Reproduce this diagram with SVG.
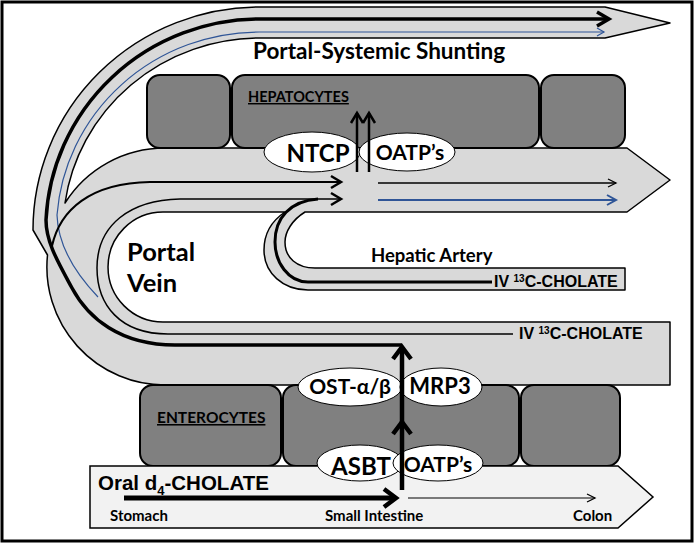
<svg xmlns="http://www.w3.org/2000/svg" width="696" height="546" viewBox="0 0 696 546">
<style>
.tube{fill:#d9d9d9;stroke:#000;stroke-width:1.5;stroke-linejoin:round}
.cell{fill:#808080;stroke:#000;stroke-width:2}
.lumen{fill:#f2f2f2;stroke:#000;stroke-width:1.5}
.oval{fill:#fff;stroke:#000;stroke-width:1}
.cal{font-family:Lato,"Open Sans",sans-serif;font-weight:bold;fill:#000}
.ari{font-family:"Liberation Sans",Arial,sans-serif;font-weight:bold;fill:#000}
.ln{fill:none;stroke:#000}
.bl{fill:none;stroke:#2f5597}
</style>
<defs>
<marker id="mBig" markerUnits="userSpaceOnUse" orient="auto" overflow="visible" markerWidth="1" markerHeight="1"><path d="M-12,-7 L0,0 L-12,7" fill="none" stroke="#000" stroke-width="3.5"/></marker>
<marker id="mMed" markerUnits="userSpaceOnUse" orient="auto" overflow="visible" markerWidth="1" markerHeight="1"><path d="M-10,-6 L0,0 L-10,6" fill="none" stroke="#000" stroke-width="2.5"/></marker>
<marker id="mSm" markerUnits="userSpaceOnUse" orient="auto" overflow="visible" markerWidth="1" markerHeight="1"><path d="M-8,-4 L0,0 L-8,4" fill="none" stroke="#000" stroke-width="1.3"/></marker>
<marker id="mBlue" markerUnits="userSpaceOnUse" orient="auto" overflow="visible" markerWidth="1" markerHeight="1"><path d="M-9,-5 L0,0 L-9,5" fill="none" stroke="#2f5597" stroke-width="2"/></marker>
<marker id="mBlueSm" markerUnits="userSpaceOnUse" orient="auto" overflow="visible" markerWidth="1" markerHeight="1"><path d="M-7,-4 L0,0 L-7,4" fill="none" stroke="#2f5597" stroke-width="1.2"/></marker>
<marker id="mVert" markerUnits="userSpaceOnUse" orient="auto" overflow="visible" markerWidth="1" markerHeight="1"><path d="M-12,-9 L0,0 L-12,9" fill="none" stroke="#000" stroke-width="4.5"/></marker>
</defs>
<rect x="0" y="0" width="696" height="546" fill="#fff"/>
<rect x="2" y="2" width="690" height="539" fill="none" stroke="#000" stroke-width="3"/>

<g id="vessels">
<path class="tube" d="M605,7 L670,23 L605,38 H260 A197 192 0 0 0 65,203 A118 118 0 0 1 165,148 H627 L670,180 L627,212 H305 C292,220 285,232 285,242 C285,258 297,268 315,268 H625 V290 H308 C283,290 264,273 264,250 C264,236 270,222 285,212 H163 A55 55 0 0 0 163,322 H670 V385 H165 A118 118 0 0 1 47.5,255 L33,230 A227 223 0 0 1 260,7 Z"/>
</g>

<g id="hepatocytes">
<rect class="cell" x="147" y="75" width="83" height="73" rx="13"/>
<rect class="cell" x="232" y="75" width="307" height="73" rx="13"/>
<rect class="cell" x="541" y="75" width="84" height="73" rx="13"/>
</g>

<g id="enterocytes">
<rect class="cell" x="140" y="385" width="141" height="81" rx="13"/>
<rect class="cell" x="283" y="385" width="236" height="81" rx="13"/>
<rect class="cell" x="521" y="385" width="99" height="81" rx="13"/>
</g>

<g id="lumen">
<path class="lumen" d="M90,466 H618 L653,497 L618,528 H90 Z"/>
</g>

<g id="transporters">
<g id="ntcp"><ellipse class="oval" cx="312" cy="152" rx="48" ry="20"/><text class="cal" x="318" y="162" font-size="24" text-anchor="middle">NTCP</text></g>
<g id="oatp-liver"><ellipse class="oval" cx="407" cy="152" rx="48" ry="19"/><text class="cal" x="410" y="160" font-size="21" text-anchor="middle">OATP’s</text></g>
<g id="ost"><ellipse class="oval" cx="350" cy="387" rx="52" ry="19"/><text class="cal" x="350" y="394" font-size="21" text-anchor="middle">OST-α/β</text></g>
<g id="mrp3"><ellipse class="oval" cx="441" cy="387" rx="41" ry="19"/><text class="cal" x="440" y="394" font-size="22" text-anchor="middle">MRP3</text></g>
<g id="asbt"><ellipse class="oval" cx="360" cy="463" rx="43" ry="18"/><text class="cal" x="361" y="475" font-size="24" text-anchor="middle">ASBT</text></g>
<g id="oatp-gut"><ellipse class="oval" cx="438" cy="463" rx="45" ry="18"/><text class="cal" x="438" y="472" font-size="21" text-anchor="middle">OATP’s</text></g>
</g>

<g id="connectors">
<path class="ln" stroke-width="3.5" d="M402,345 H175 C120,345 88,318 72,288 C58,262 46,242 46,220 A214 211 0 0 1 260,19 H609" marker-end="url(#mBig)"/>
<path class="bl" stroke-width="1.2" d="M98,297 C78,276 58,248 57,215 A203 198 0 0 1 260,32 H604" marker-end="url(#mBlueSm)"/>
<path class="ln" stroke-width="2" d="M52,246 C60,210 90,183 150,182 H341" marker-end="url(#mMed)"/>
<path class="ln" stroke-width="1.5" d="M513,334 H168 C120,334 97,305 97,268 C97,225 130,200 180,199 H341" marker-end="url(#mMed)"/>
<path class="ln" stroke-width="3" d="M492,282 H308 C288,282 275,262 275,242 C275,218 290,201 318,199"/>
<path class="ln" stroke-width="1.5" d="M378,183 H616" marker-end="url(#mSm)"/>
<path class="bl" stroke-width="2" d="M378,200 H616" marker-end="url(#mBlue)"/>
<path class="ln" stroke-width="2.5" d="M357,172 V113" marker-end="url(#mMed)"/>
<path class="ln" stroke-width="2.5" d="M369,172 V113" marker-end="url(#mMed)"/>
<path class="ln" stroke-width="4.5" d="M402,490 V422" marker-end="url(#mVert)"/>
<path class="ln" stroke-width="4.5" d="M402,422 V347" marker-end="url(#mVert)"/>
<path class="ln" stroke-width="5" d="M124,498 H396" marker-end="url(#mVert)"/>
<path class="ln" stroke-width="1.2" d="M408,498 H595" marker-end="url(#mSm)"/>
</g>

<g id="labels">
<text class="cal" x="253" y="59" font-size="22.5">Portal-Systemic Shunting</text>
<text class="cal" x="248" y="102" font-size="14.5" text-decoration="underline">HEPATOCYTES</text>
<text class="cal" x="127" y="261" font-size="25.5">Portal</text>
<text class="cal" x="127" y="292" font-size="25.5">Vein</text>
<text class="cal" x="371" y="262" font-size="18.5">Hepatic Artery</text>
<text class="ari" x="494" y="287" font-size="16">IV <tspan font-size="10" dy="-5">13</tspan><tspan dy="5">C-CHOLATE</tspan></text>
<text class="ari" x="519" y="339" font-size="16">IV <tspan font-size="10" dy="-5">13</tspan><tspan dy="5">C-CHOLATE</tspan></text>
<text class="cal" x="157" y="423" font-size="15.5" text-decoration="underline">ENTEROCYTES</text>
<text class="ari" x="98" y="490" font-size="20.5">Oral d<tspan font-size="13" dy="5">4</tspan><tspan dy="-5">-CHOLATE</tspan></text>
<text class="cal" x="110" y="521" font-size="15">Stomach</text>
<text class="cal" x="325" y="521" font-size="15">Small Intestine</text>
<text class="cal" x="573" y="521" font-size="15">Colon</text>
</g>
</svg>
